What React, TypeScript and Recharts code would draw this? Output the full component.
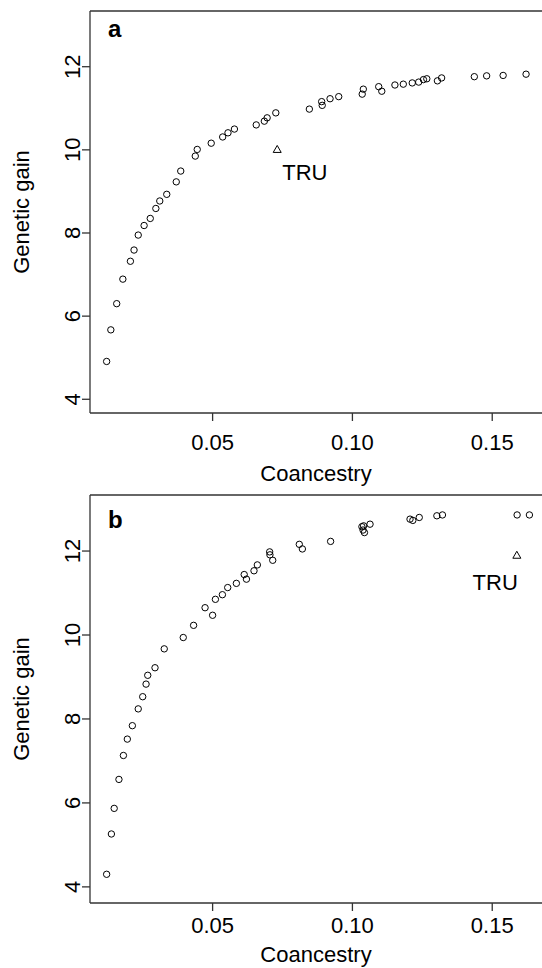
import React from 'react';
import { ScatterChart, Scatter, XAxis, YAxis, ReferenceLine } from 'recharts';

// Panel a
const coancestryA = [0.0121, 0.0136, 0.0157, 0.0179, 0.0206, 0.0219, 0.0234, 0.0255, 0.0277, 0.0297, 0.0311, 0.0336, 0.0370, 0.0386, 0.0438, 0.0445, 0.0495, 0.0536, 0.0555, 0.0578, 0.0656, 0.0685, 0.0695, 0.0726, 0.0846, 0.0890, 0.0892, 0.0920, 0.0951, 0.1035, 0.1039, 0.1094, 0.1105, 0.1152, 0.1182, 0.1214, 0.1237, 0.1254, 0.1266, 0.1304, 0.1319, 0.1436, 0.1480, 0.1539, 0.1621];
const gainA = [4.91, 5.67, 6.30, 6.89, 7.32, 7.59, 7.95, 8.18, 8.35, 8.59, 8.77, 8.93, 9.23, 9.49, 9.85, 10.01, 10.16, 10.31, 10.41, 10.50, 10.60, 10.69, 10.77, 10.89, 10.98, 11.16, 11.07, 11.23, 11.28, 11.34, 11.46, 11.52, 11.41, 11.56, 11.58, 11.61, 11.63, 11.69, 11.71, 11.66, 11.73, 11.76, 11.78, 11.79, 11.82];
const truA = { label: 'TRU', coancestry: 0.0731, gain: 10.01 };

// Panel b
const coancestryB = [0.0121, 0.0138, 0.0148, 0.0165, 0.0181, 0.0195, 0.0213, 0.0234, 0.0250, 0.0262, 0.0268, 0.0294, 0.0327, 0.0395, 0.0432, 0.0473, 0.0500, 0.0510, 0.0535, 0.0554, 0.0585, 0.0613, 0.0621, 0.0648, 0.0660, 0.0704, 0.0705, 0.0715, 0.0810, 0.0821, 0.0922, 0.1034, 0.1040, 0.1038, 0.1043, 0.1063, 0.1206, 0.1216, 0.1239, 0.1302, 0.1322, 0.1589, 0.1633];
const gainB = [4.30, 5.26, 5.87, 6.56, 7.13, 7.52, 7.84, 8.24, 8.53, 8.83, 9.04, 9.22, 9.67, 9.94, 10.23, 10.65, 10.47, 10.85, 10.96, 11.13, 11.23, 11.44, 11.33, 11.53, 11.67, 11.98, 11.91, 11.78, 12.16, 12.05, 12.23, 12.58, 12.60, 12.50, 12.44, 12.64, 12.76, 12.73, 12.80, 12.84, 12.86, 12.86, 12.86];
const truB = { label: 'TRU', coancestry: 0.1588, gain: 11.90 };

const xTicks = [0.05, 0.10, 0.15];
const yTicks = [4, 6, 8, 10, 12];
const xLabel = 'Coancestry';
const yLabel = 'Genetic gain';

const FONT = '"Liberation Sans", Arial, Helvetica, sans-serif';
const AXIS = '#333';

const Circle = (props: any) => {
  const { cx, cy } = props;
  if (cx == null || cy == null) return null;
  return <circle cx={cx} cy={cy} r={3.2} fill="none" stroke="#000" strokeWidth={1} />;
};

function makeTru(anchor: 'start' | 'end', dx: number, dy: number) {
  return (props: any) => {
    const { cx, cy, payload } = props;
    if (cx == null || cy == null) return null;
    const s = 4;
    return (
      <g>
        <polygon
          points={`${cx},${cy - s} ${cx - s},${cy + s * 0.75} ${cx + s},${cy + s * 0.75}`}
          fill="none"
          stroke="#000"
          strokeWidth={1}
        />
        <text x={cx + dx} y={cy + dy} textAnchor={anchor} fontFamily={FONT} fontSize={22} fill="#000">
          {payload.label}
        </text>
      </g>
    );
  };
}

type PanelProps = {
  letter: string;
  xs: number[];
  ys: number[];
  tru: { label: string; coancestry: number; gain: number };
  truShape: any;
  height: number;
  top: number;
  marginTop: number;
  axisHeight: number;
  yDomain: [number, number];
  tickBaseline: number;
  titleBaseline: number;
  letterBaseline: number;
};

const xDomain: [number, number] = [0.00615, 0.1678];

function Panel(p: PanelProps) {
  const data = p.xs.map((x, i) => ({ coancestry: x, gain: p.ys[i] }));
  const truData = [p.tru];
  const XTick = (props: any) => {
    const { x, y, payload } = props;
    return (
      <text x={x} y={y + p.tickBaseline} textAnchor="middle" fontFamily={FONT} fontSize={22} fill="#000">
        {Number(payload.value).toFixed(2)}
      </text>
    );
  };
  const YTick = (props: any) => {
    const { x, y, payload } = props;
    return (
      <text
        x={x}
        y={y}
        transform={`rotate(-90, ${x}, ${y})`}
        textAnchor="middle"
        fontFamily={FONT}
        fontSize={22}
        fill="#000"
      >
        {payload.value}
      </text>
    );
  };
  const XTitle = (props: any) => {
    const vb = props.viewBox;
    return (
      <text x={vb.x + vb.width / 2} y={vb.y + p.titleBaseline} textAnchor="middle" fontFamily={FONT} fontSize={22} fill="#000">
        {xLabel}
      </text>
    );
  };
  const YTitle = (props: any) => {
    const vb = props.viewBox;
    const cx = 29;
    const cy = vb.y + vb.height / 2;
    return (
      <text x={cx} y={cy} transform={`rotate(-90, ${cx}, ${cy})`} textAnchor="middle" fontFamily={FONT} fontSize={22} fill="#000">
        {yLabel}
      </text>
    );
  };
  return (
    <div style={{ position: 'absolute', left: 0, top: p.top }}>
      <ScatterChart width={560} height={p.height} margin={{ top: p.marginTop, right: 18, left: 0, bottom: 0 }}>
        <XAxis
          type="number"
          dataKey="coancestry"
          domain={xDomain}
          ticks={xTicks}
          allowDataOverflow
          height={p.axisHeight}
          tickSize={8}
          tickMargin={0}
          tick={XTick}
          axisLine={{ stroke: AXIS, strokeWidth: 1.3 }}
          tickLine={{ stroke: AXIS, strokeWidth: 1.3 }}
          label={XTitle}
        />
        <YAxis
          type="number"
          dataKey="gain"
          domain={p.yDomain}
          ticks={yTicks}
          allowDataOverflow
          width={90}
          tickSize={8}
          tickMargin={2}
          tick={YTick}
          axisLine={{ stroke: AXIS, strokeWidth: 1.3 }}
          tickLine={{ stroke: AXIS, strokeWidth: 1.3 }}
          label={YTitle}
        />
        <ReferenceLine y={p.yDomain[1]} stroke={AXIS} strokeWidth={1.3} ifOverflow="visible" />
        <ReferenceLine
          y={p.yDomain[1]}
          stroke="none"
          ifOverflow="visible"
          label={(props: any) => {
            const vb = props.viewBox;
            return (
              <text x={108} y={vb.y + p.letterBaseline} fontFamily={FONT} fontSize={24} fontWeight="bold" fill="#000">
                {p.letter}
              </text>
            );
          }}
        />
        <Scatter data={data} shape={Circle} isAnimationActive={false} />
        <Scatter data={truData} dataKey="gain" shape={p.truShape} isAnimationActive={false} />
      </ScatterChart>
    </div>
  );
}

export default function App() {
  return (
    <div style={{ position: 'absolute', left: 0, top: 0, width: 542, height: 968, overflow: 'hidden', background: '#fff' }}>
      <Panel
        letter="a"
        xs={coancestryA}
        ys={gainA}
        tru={truA}
        truShape={makeTru('start', 5, 31)}
        height={492}
        top={0}
        marginTop={11}
        axisHeight={79}
        yDomain={[3.67, 13.34]}
        tickBaseline={29}
        titleBaseline={68}
        letterBaseline={26}
      />
      <Panel
        letter="b"
        xs={coancestryB}
        ys={gainB}
        tru={truB}
        truShape={makeTru('end', 1, 35)}
        height={488}
        top={480}
        marginTop={15}
        axisHeight={65}
        yDomain={[3.616, 13.335]}
        tickBaseline={22}
        titleBaseline={59}
        letterBaseline={33}
      />
    </div>
  );
}
